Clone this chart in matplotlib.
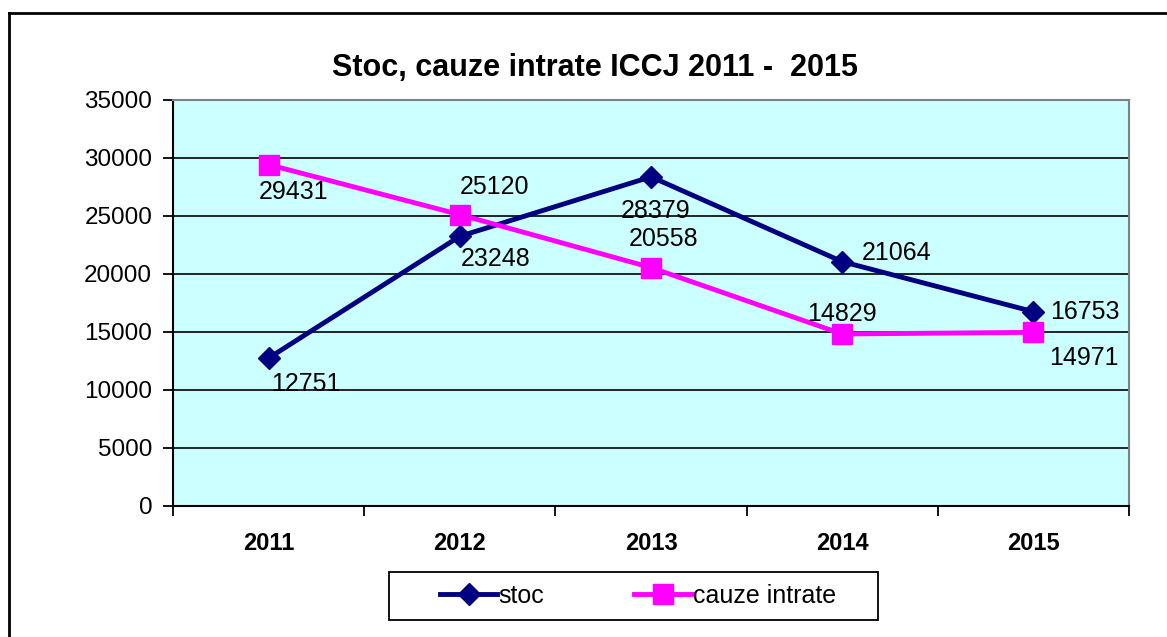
import matplotlib.pyplot as plt
from matplotlib.lines import Line2D
from matplotlib.patches import Rectangle

years = ['2011', '2012', '2013', '2014', '2015']
stoc = [12751, 23248, 28379, 21064, 16753]
cauze_intrate = [29431, 25120, 20558, 14829, 14971]

# label offsets in points (dx, dy, ha, va)
stoc_off = [(2, -10, 'left', 'top'), (1, -8, 'left', 'top'), (3, -16, 'center', 'top'),
            (14, 6, 'left', 'center'), (12, 0, 'left', 'center')]
cauze_off = [(18, -11, 'center', 'top'), (0, 11, 'left', 'bottom'), (9, 12, 'center', 'bottom'),
             (0, 6, 'center', 'bottom'), (11, -10, 'left', 'top')]

plt.rcParams['font.family'] = ['Liberation Sans', 'DejaVu Sans']

fig = plt.figure(figsize=(11.67, 6.37), dpi=100)
ax = fig.add_axes([173 / 1167, 131 / 637, 956 / 1167, 406 / 637])
ax.set_facecolor('#CCFFFF')

# outer chart frame (only top/left edge visible in the picture)
fig.add_artist(Line2D([9 / 1167, 9 / 1167], [0, 1 - 13 / 637], color='black', lw=2,
                      transform=fig.transFigure))
fig.add_artist(Line2D([9 / 1167, 1], [1 - 13 / 637, 1 - 13 / 637], color='black', lw=2,
                      transform=fig.transFigure))

x = list(range(len(years)))
ax.plot(x, stoc, color='#000080', lw=3.5, marker='D', markersize=11, label='stoc', zorder=3)
ax.plot(x, cauze_intrate, color='#FF00FF', lw=3.5, marker='s', markersize=14,
        label='cauze intrate', zorder=3)

for i, v in enumerate(stoc):
    dx, dy, ha, va = stoc_off[i]
    ax.annotate(str(v), (i, v), xytext=(dx, dy), textcoords='offset points',
                ha=ha, va=va, fontsize=18, zorder=4)
for i, v in enumerate(cauze_intrate):
    dx, dy, ha, va = cauze_off[i]
    ax.annotate(str(v), (i, v), xytext=(dx, dy), textcoords='offset points',
                ha=ha, va=va, fontsize=18, zorder=4)

ax.set_xlim(-0.5, len(years) - 0.5)
ax.set_ylim(0, 35000)
ax.set_yticks(range(0, 35001, 5000))
ax.yaxis.grid(True, color='black', lw=1.2)
ax.set_axisbelow(True)
ax.set_xticks(x)
ax.set_xticklabels(years, fontweight='bold', fontsize=17)
ax.set_xticks([i - 0.5 for i in range(len(years) + 1)], minor=True)
ax.tick_params(axis='x', which='major', length=0, pad=19)
ax.tick_params(axis='x', which='minor', length=7, width=1.3, direction='out')
ax.tick_params(axis='y', length=7, width=1.3, labelsize=17.5, pad=8)

for side in ['left', 'bottom']:
    ax.spines[side].set_color('black')
    ax.spines[side].set_linewidth(1.5)
for side in ['top', 'right']:
    ax.spines[side].set_color('#808080')
    ax.spines[side].set_linewidth(1.5)

fig.text(595 / 1167, 1 - 68 / 637, 'Stoc, cauze intrate ICCJ 2011 -  2015', ha='center',
         va='center', fontsize=22, fontweight='bold')

# legend box drawn separately (wider padding than matplotlib's frame)
fig.add_artist(Rectangle((389 / 1167, 1 - 620 / 637), 489 / 1167, 48 / 637,
                         transform=fig.transFigure, fill=False, edgecolor='black', lw=1.3))
fig.legend(loc='center', bbox_to_anchor=(638 / 1167, 1 - 596 / 637), ncol=2,
           frameon=False, fontsize=18, handlelength=2.3,
           handletextpad=0.05, columnspacing=3.6, borderpad=0.35)

plt.savefig('out.png', dpi=100)
